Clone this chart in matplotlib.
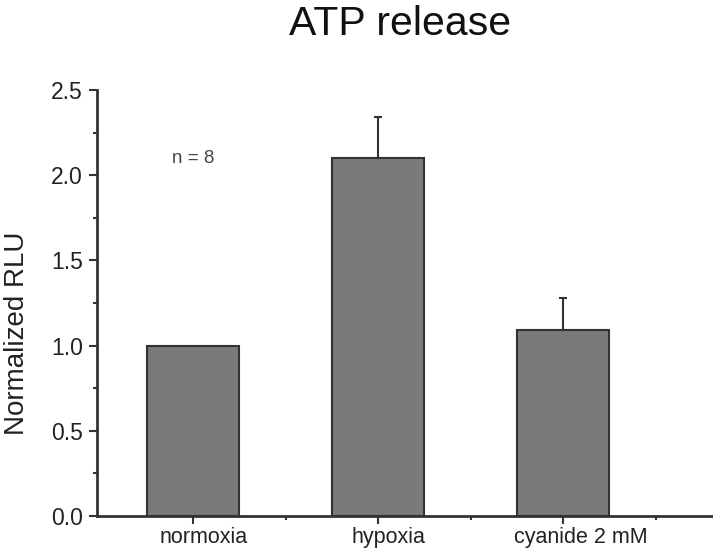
import matplotlib.pyplot as plt
import matplotlib.transforms as mtransforms
from matplotlib.ticker import MultipleLocator, FixedLocator

plt.rcParams['font.family'] = ['Liberation Sans', 'DejaVu Sans']

# data
conditions = ["normoxia", "hypoxia", "cyanide 2 mM"]
rlu = [1.0, 2.1, 1.09]
rlu_err = [0.0, 0.24, 0.19]

fig = plt.figure(figsize=(7.13, 5.56), dpi=100)
ax = fig.add_axes([0.136, 0.072, 0.864, 0.766])

x = [1, 2, 3]
ax.bar(x, rlu, width=0.5, color='#7a7a7a', edgecolor='#333333', linewidth=1.5, zorder=2)
# upper error bars only
ax.errorbar(x[1:], rlu[1:], yerr=[[0, 0], rlu_err[1:]], fmt='none',
            ecolor='#333333', elinewidth=1.5, capsize=3, capthick=1.5, zorder=1)

ax.set_xlim(0.48, 3.81)
ax.set_ylim(0, 2.5)
ax.set_xticks(x)
ax.set_xticklabels([])
ax.xaxis.set_minor_locator(FixedLocator([1.5, 2.5, 3.5]))
ax.yaxis.set_major_locator(MultipleLocator(0.5))
ax.yaxis.set_minor_locator(MultipleLocator(0.25))
ax.yaxis.set_major_formatter(plt.FormatStrFormatter('%.1f'))
ax.tick_params(axis='y', labelsize=16.5, labelcolor='#222222', pad=4)
ax.tick_params(which='major', length=6, width=1.5, color='#333333')
ax.tick_params(which='minor', length=3, width=1.5, color='#333333')

# category labels sit slightly right of their ticks in the original
shifts = [10, 10, 18]
for xi, lab, dx in zip(x, conditions, shifts):
    tr = ax.get_xaxis_transform() + mtransforms.ScaledTranslation(dx / 100, -11 / 100, fig.dpi_scale_trans)
    ax.text(xi, 0, lab, transform=tr, ha='center', va='top', fontsize=15.5, color='#222222')

for s in ['top', 'right']:
    ax.spines[s].set_visible(False)
for s in ['left', 'bottom']:
    ax.spines[s].set_linewidth(2)
    ax.spines[s].set_color('#333333')

ax.set_ylabel('Normalized RLU', fontsize=20, color='#222222')
ax.yaxis.set_label_coords(-0.108, 0.43)
fig.text(400 / 713, 1 - 35 / 556, 'ATP release', fontsize=29.5, ha='center',
         va='baseline', color='#111111')
ax.text(1.0, 2.1, 'n = 8', fontsize=13.5, ha='center', va='center', color='#444444')

fig.savefig('out.png', dpi=100)
